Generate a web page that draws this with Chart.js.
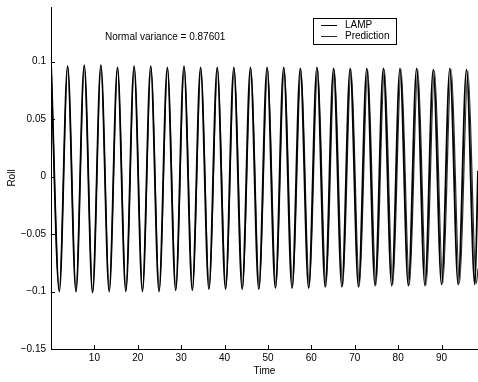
<!DOCTYPE html>
<html>
<head>
<meta charset="utf-8">
<script src="https://cdn.jsdelivr.net/npm/chart.js@4"></script>
<style>
  html, body { margin: 0; padding: 0; background: #fff; }
  #wrap { width: 478px; height: 382px; }
</style>
</head>
<body>
<div id="wrap"><canvas id="rollChart" width="478" height="382"></canvas></div>
<script>
// Roll signal, sampled at its crests and troughs
const lampTime = [
  0, 1.92, 3.83, 5.75, 7.66, 9.58, 11.49, 13.41, 15.32, 17.24,
  19.15, 21.07, 22.98, 24.90, 26.81, 28.73, 30.64, 32.56, 34.47, 36.39,
  38.30, 40.22, 42.13, 44.05, 45.96, 47.88, 49.79, 51.71, 53.62, 55.54,
  57.45, 59.37, 61.28, 63.20, 65.11, 67.03, 68.94, 70.86, 72.77, 74.69,
  76.60, 78.52, 80.43, 82.35, 84.26, 86.18, 88.09, 90.01, 91.92, 93.84,
  95.75, 97.67, 98.40
];
const lampRoll = [
  0.100, -0.100, 0.096, -0.100, 0.097, -0.101, 0.097, -0.100, 0.095, -0.100,
  0.096, -0.100, 0.096, -0.100, 0.095, -0.099, 0.096, -0.099, 0.095, -0.098,
  0.095, -0.098, 0.095, -0.098, 0.095, -0.098, 0.095, -0.097, 0.095, -0.097,
  0.094, -0.097, 0.095, -0.096, 0.094, -0.096, 0.094, -0.096, 0.094, -0.095,
  0.094, -0.095, 0.094, -0.095, 0.094, -0.095, 0.093, -0.094, 0.094, -0.094,
  0.093, -0.094, 0.005
];

const predTime = [
  0, 1.92, 3.84, 5.76, 7.67, 9.59, 11.51, 13.43, 15.35, 17.27,
  19.19, 21.11, 23.03, 24.95, 26.87, 28.79, 30.71, 32.63, 34.55, 36.47,
  38.39, 40.31, 42.23, 44.16, 46.08, 48.00, 49.92, 51.84, 53.76, 55.69,
  57.61, 59.53, 61.45, 63.38, 65.30, 67.22, 69.14, 71.07, 72.99, 74.91,
  76.84, 78.76, 80.68, 82.61, 84.53, 86.46, 88.38, 90.30, 92.23, 94.15,
  96.08, 98.00, 98.40
];
const predRoll = [
  0.100, -0.099, 0.096, -0.100, 0.096, -0.100, 0.096, -0.099, 0.095, -0.099,
  0.095, -0.099, 0.095, -0.099, 0.094, -0.098, 0.095, -0.098, 0.094, -0.097,
  0.094, -0.097, 0.094, -0.097, 0.094, -0.097, 0.094, -0.096, 0.094, -0.096,
  0.093, -0.096, 0.094, -0.095, 0.093, -0.095, 0.093, -0.095, 0.093, -0.094,
  0.093, -0.094, 0.093, -0.094, 0.093, -0.094, 0.092, -0.093, 0.093, -0.093,
  0.092, -0.093, -0.080
];

const xTicks = [10, 20, 30, 40, 50, 60, 70, 80, 90];
const yTicks = [-0.15, -0.1, -0.05, 0, 0.05, 0.1];

const varianceNote = 'Normal variance = 0.87601';
const FONT = "'Liberation Sans', Arial, Helvetica, sans-serif";

function toPoints(xs, ys) {
  return xs.map((t, i) => ({ x: t, y: ys[i] }));
}

// MATLAB style: ticks point into the plot
const innerTicks = {
  id: 'innerTicks',
  afterDatasetsDraw(chart) {
    const { ctx, chartArea, scales: { x, y } } = chart;
    ctx.save();
    ctx.strokeStyle = '#000';
    ctx.lineWidth = 1;
    ctx.beginPath();
    y.ticks.forEach(t => {
      const py = Math.round(y.getPixelForValue(t.value)) + 0.5;
      ctx.moveTo(chartArea.left, py);
      ctx.lineTo(chartArea.left + 4, py);
    });
    x.ticks.forEach(t => {
      const px = Math.round(x.getPixelForValue(t.value)) + 0.5;
      ctx.moveTo(px, chartArea.bottom);
      ctx.lineTo(px, chartArea.bottom - 4);
    });
    ctx.stroke();
    ctx.restore();
  }
};

// axis titles, note text and boxed legend
const decorations = {
  id: 'decorations',
  afterDraw(chart) {
    const { ctx, chartArea } = chart;
    ctx.save();
    ctx.fillStyle = '#000';
    ctx.font = '10px ' + FONT;
    ctx.textBaseline = 'middle';

    ctx.textAlign = 'center';
    ctx.fillText('Time', (chartArea.left + chartArea.right) / 2, 371);

    ctx.save();
    ctx.translate(12, (chartArea.top + chartArea.bottom) / 2);
    ctx.rotate(-Math.PI / 2);
    ctx.fillText('Roll', 0, 0);
    ctx.restore();

    ctx.textAlign = 'left';
    ctx.fillText(varianceNote, 105, 37);

    // legend box
    ctx.fillStyle = '#fff';
    ctx.fillRect(313.5, 18.5, 83, 26);
    ctx.strokeStyle = '#000';
    ctx.lineWidth = 1;
    ctx.strokeRect(313.5, 18.5, 83, 26);
    chart.data.datasets.forEach((ds, i) => {
      const ly = 25 + i * 11;
      ctx.strokeStyle = ds.borderColor;
      ctx.beginPath();
      ctx.moveTo(321, ly + 0.5);
      ctx.lineTo(337, ly + 0.5);
      ctx.stroke();
      ctx.fillStyle = '#000';
      ctx.fillText(ds.label, 345, ly + 0.5);
    });
    ctx.restore();
  }
};

const tickFont = { family: FONT, size: 10 };

new Chart(document.getElementById('rollChart'), {
  type: 'line',
  data: {
    datasets: [
      {
        label: 'LAMP',
        data: toPoints(lampTime, lampRoll),
        borderColor: '#000',
        borderWidth: 1.8,
        pointRadius: 0,
        cubicInterpolationMode: 'monotone'
      },
      {
        label: 'Prediction',
        data: toPoints(predTime, predRoll),
        borderColor: '#2a2a2a',
        borderWidth: 1.2,
        pointRadius: 0,
        cubicInterpolationMode: 'monotone'
      }
    ]
  },
  options: {
    responsive: false,
    animation: false,
    layout: { padding: { top: 7, right: 0, left: 0, bottom: 0 } },
    plugins: {
      legend: { display: false },
      tooltip: { enabled: false }
    },
    scales: {
      x: {
        type: 'linear',
        min: 0,
        max: 98.4,
        grid: { display: false, drawTicks: false },
        border: { display: true, color: '#000', width: 1 },
        ticks: { font: tickFont, color: '#000', padding: 3, maxRotation: 0 },
        afterBuildTicks: s => { s.ticks = xTicks.map(v => ({ value: v })); },
        afterFit: s => {
          s.height = 33;
          s.paddingLeft = 0;
          s.paddingRight = 0;
        }
      },
      y: {
        type: 'linear',
        min: -0.15,
        max: 0.1475,
        grid: { display: false, drawTicks: false },
        border: { display: true, color: '#000', width: 1 },
        ticks: {
          font: tickFont,
          color: '#000',
          padding: 5,
          callback: v => (v < 0 ? '\u2212' + Math.abs(v) : String(v))
        },
        afterBuildTicks: s => { s.ticks = yTicks.map(v => ({ value: v })); },
        afterFit: s => {
          s.width = 51;
          s.paddingTop = 0;
          s.paddingBottom = 0;
        }
      }
    }
  },
  plugins: [innerTicks, decorations]
});
</script>
</body>
</html>
